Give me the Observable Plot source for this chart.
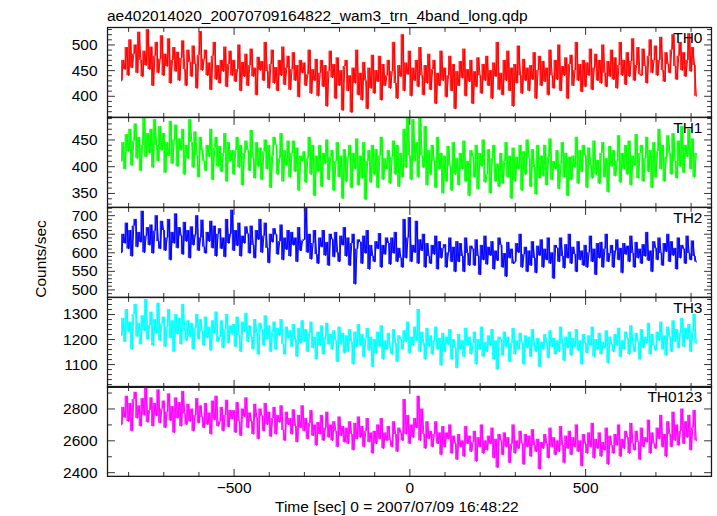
<!DOCTYPE html>
<html><head><meta charset="utf-8">
<script src="https://cdn.jsdelivr.net/npm/d3@7"></script>
<script src="https://cdn.jsdelivr.net/npm/@observablehq/plot@0.6"></script>
<style>
body{margin:0;background:#fff;}
#chart{position:relative;width:717px;height:516px;font-family:"Liberation Sans",Arial,Helvetica,sans-serif;color:#000;overflow:hidden;}
.abs{position:absolute;white-space:nowrap;line-height:1;font-size:15.5px;}
</style></head><body><div id="chart"></div>
<script>
const title = "ae402014020_20070709164822_wam3_trn_4band_long.qdp";
const yLabel = "Counts/sec";
const xLabel = "Time [sec] 0 = 2007/07/09 16:48:22";
const panelNames = ["TH0", "TH1", "TH2", "TH3", "TH0123"];
const panelColors = ["#ff0000", "#00ff00", "#0000ff", "#00ffff", "#ff00ff"];

// sampling of the light curves (seconds)
const tStart = -820, tStep = 5;

const th0 = [
430,470,452,495,440,510,455,482, 500,445,525,470,438,488,460,530,
452,496,420,478,505,445,472,518, 440,482,458,512,425,470,495,448,
486,430,474,508,452,420,490,466, 438,498,462,415,480,526,450,472,
490,440,465,412,478,505,432,460, 425,470,448,496,418,462,488,440,
470,428,452,500,410,466,438,482, 420,460,492,438,455,402,476,450,
468,430,505,448,415,462,490,425, 456,410,470,440,496,422,455,478,
412,452,485,430,460,398,470,445, 465,420,442,490,405,452,430,472,
400,445,470,418,460,380,448,488, 436,462,395,475,420,450,372,458,
470,410,440,368,455,425,490,402, 445,392,466,430,375,455,415,480,
405,450,428,478,392,462,420,440, 470,415,448,505,425,395,460,438,
520,410,465,442,488,400,455,430, 470,418,495,440,402,460,425,482,
412,452,470,385,445,420,488,430, 455,398,440,478,410,462,375,448,
420,468,435,492,400,452,428,470, 385,448,418,475,440,405,462,430,
478,420,450,395,465,438,505,412, 445,402,470,430,488,410,455,380,
462,425,498,440,405,472,430,455, 410,460,432,485,395,450,478,420,
468,428,455,402,490,440,415,470, 432,500,410,458,440,475,395,462,
480,420,450,505,430,462,408,470, 418,465,440,492,412,455,482,430,
470,425,500,445,418,468,438,490, 432,475,415,460,505,440,470,422,
485,438,468,512,430,460,495,442, 440,492,458,425,478,510,445,470,
498,440,470,515,450,428,485,462, 445,490,520,458,432,478,505,450,
485,438,470,522,448,495,460,400];

const th1 = [
410,445,395,460,428,470,402,448, 480,415,455,392,440,490,418,462,
425,470,398,488,440,410,475,430, 462,388,445,420,485,405,450,478,
400,452,430,470,385,440,415,488, 445,398,465,420,380,455,430,410,
392,440,418,470,375,435,455,400, 438,390,425,462,372,445,410,430,
385,430,455,398,440,365,425,448, 430,392,468,415,378,445,400,435,
375,428,450,395,440,360,420,455, 440,385,415,462,372,430,402,448,
380,425,448,390,435,355,420,410, 428,370,415,455,385,440,345,420,
390,440,362,425,405,450,375,418, 430,355,410,445,380,420,340,432,
372,418,440,360,425,395,452,365, 420,378,445,338,410,430,370,440,
385,432,360,420,455,375,415,395, 430,368,418,448,385,440,362,425,
380,470,398,492,420,375,488,410, 445,380,492,420,398,475,365,430,
385,440,410,360,455,395,425,350, 420,372,438,400,355,445,385,415,
365,425,395,448,372,410,345,430, 418,380,440,358,425,400,450,370,
385,432,350,415,440,372,405,362, 425,368,410,445,380,420,340,435,
372,418,395,440,355,428,385,450, 415,362,432,398,348,440,378,420,
382,440,365,418,452,375,410,395, 430,358,405,445,380,425,345,418,
375,420,398,455,368,430,390,440, 420,360,435,402,378,448,385,412,
368,425,445,380,415,352,438,400, 430,382,410,458,370,425,395,440,
385,448,365,420,402,460,378,425, 440,372,415,455,390,430,360,445,
380,428,470,395,440,372,418,458, 425,385,462,410,378,448,400,475,
388,440,418,470,395,452,380,425];

const th2 = [
600,650,625,680,610,660,590,672, 690,615,655,628,712,600,645,668,
620,675,598,658,700,630,610,685, 660,605,640,690,580,655,625,705,
612,668,645,595,682,630,660,585, 670,620,648,700,605,640,688,615,
598,655,630,685,612,672,590,650, 665,610,640,588,690,625,650,715,
605,660,618,680,590,645,625,670, 650,598,672,620,585,660,635,690,
600,645,680,612,572,650,628,665, 648,595,630,675,580,640,608,660,
590,655,620,640,575,668,605,632, 635,720,600,650,582,625,660,595,
570,640,615,660,592,628,565,650, 635,588,655,600,575,645,620,668,
590,640,565,625,650,515,610,635, 628,570,645,598,660,555,620,590,
575,630,610,652,560,620,595,640, 625,568,640,598,655,575,612,585,
560,690,585,640,695,575,620,600, 685,570,635,605,650,560,625,590,
570,620,595,645,555,630,585,612, 622,560,600,640,575,615,548,630,
575,625,590,548,640,598,565,618, 610,565,635,590,540,620,580,645,
568,615,592,630,555,605,578,640, 620,560,598,535,628,585,610,570,
575,625,600,650,560,595,615,548, 605,565,630,585,545,618,592,635,
560,610,580,640,570,600,530,620, 612,575,640,590,558,622,585,650,
570,615,595,548,630,580,605,565, 620,560,600,645,575,610,540,625,
585,628,560,610,650,575,598,620, 560,605,635,580,612,545,625,595,
618,575,645,598,560,628,585,610, 570,622,590,655,578,605,548,630,
612,580,640,598,565,625,602,650, 575,630,592,612,555,640,585,620,
610,570,645,598,580,632,590,575];

const th3 = [
1215,1285,1190,1320,1230,1270,1160,1300, 1340,1210,1265,1180,1295,1235,1360,1200,
1255,1310,1175,1280,1225,1345,1195,1262, 1290,1170,1250,1320,1205,1275,1150,1300,
1220,1285,1180,1340,1240,1195,1275,1210, 1265,1160,1245,1300,1200,1280,1230,1175,
1290,1205,1250,1155,1275,1225,1310,1190, 1210,1275,1165,1240,1300,1185,1255,1220,
1260,1170,1290,1215,1150,1270,1230,1305, 1190,1255,1210,1160,1280,1225,1140,1265,
1240,1175,1295,1200,1255,1150,1230,1270, 1160,1245,1215,1280,1180,1140,1250,1205,
1235,1170,1260,1200,1130,1245,1185,1275, 1190,1240,1150,1225,1270,1165,1210,1120,
1230,1175,1255,1140,1210,1265,1180,1220, 1160,1235,1195,1110,1250,1180,1225,1145,
1215,1150,1240,1190,1100,1230,1170,1260, 1175,1220,1130,1205,1245,1155,1210,1090,
1200,1145,1230,1170,1255,1120,1195,1160, 1225,1165,1140,1240,1185,1110,1215,1200,
1160,1235,1190,1270,1145,1210,1175,1250, 1195,1320,1150,1230,1185,1120,1245,1170,
1215,1140,1195,1250,1160,1205,1095,1225, 1150,1210,1180,1240,1120,1200,1165,1085,
1220,1160,1195,1130,1245,1175,1210,1140, 1185,1230,1100,1200,1160,1250,1130,1190,
1150,1215,1175,1240,1120,1195,1080,1210, 1200,1135,1230,1170,1210,1110,1185,1245,
1140,1195,1160,1225,1185,1100,1215,1165, 1210,1130,1240,1175,1150,1205,1090,1190,
1160,1220,1185,1125,1235,1170,1205,1140, 1195,1150,1250,1180,1115,1210,1165,1230,
1135,1205,1170,1240,1155,1195,1100,1220, 1185,1145,1215,1175,1250,1130,1200,1160,
1225,1140,1190,1165,1235,1105,1210,1180, 1150,1220,1175,1245,1130,1195,1160,1230,
1205,1140,1255,1180,1150,1225,1190,1120, 1240,1165,1210,1185,1265,1140,1220,1175,
1155,1230,1195,1270,1160,1215,1135,1250, 1210,1150,1275,1190,1240,1165,1225,1285,
1170,1245,1200,1260,1150,1230,1300,1185];

const th0123 = [
2700,2810,2745,2880,2720,2835,2660,2860, 2905,2740,2820,2690,2865,2760,2930,2715,
2790,2870,2690,2835,2755,2920,2710,2800, 2850,2680,2780,2895,2725,2815,2650,2870,
2740,2840,2690,2910,2770,2700,2830,2720, 2800,2660,2760,2865,2710,2820,2745,2680,
2835,2700,2775,2640,2850,2730,2880,2690, 2720,2810,2660,2760,2855,2685,2790,2735,
2790,2650,2840,2720,2630,2800,2750,2870, 2680,2775,2720,2640,2830,2745,2610,2800,
2755,2660,2835,2700,2780,2625,2740,2810, 2640,2760,2715,2820,2665,2600,2780,2700,
2740,2640,2795,2690,2590,2760,2680,2820, 2660,2740,2610,2710,2790,2630,2700,2570,
2715,2640,2760,2600,2680,2780,2620,2700, 2600,2720,2660,2560,2750,2630,2690,2590,
2680,2580,2720,2640,2540,2710,2610,2750, 2620,2690,2560,2660,2740,2590,2650,2520,
2660,2580,2700,2610,2740,2550,2650,2600, 2690,2600,2560,2720,2640,2530,2680,2650,
2600,2860,2640,2760,2580,2700,2620,2740, 2680,2880,2600,2800,2640,2550,2720,2610,
2660,2560,2640,2720,2580,2650,2510,2690, 2560,2650,2610,2700,2520,2630,2580,2480,
2640,2560,2600,2500,2690,2580,2630,2530, 2590,2660,2470,2620,2560,2700,2520,2600,
2540,2630,2580,2680,2490,2610,2430,2640, 2600,2510,2650,2560,2620,2460,2580,2700,
2520,2600,2550,2660,2580,2450,2640,2560, 2630,2500,2670,2570,2530,2610,2420,2590,
2550,2640,2580,2490,2680,2560,2620,2510, 2600,2530,2690,2570,2460,2630,2550,2660,
2510,2620,2560,2700,2530,2600,2440,2640, 2580,2520,2650,2560,2710,2490,2610,2550,
2650,2500,2590,2540,2680,2450,2630,2570, 2520,2640,2570,2700,2500,2610,2550,2660,
2620,2520,2710,2580,2540,2660,2590,2480, 2680,2560,2620,2590,2730,2520,2650,2580,
2550,2680,2610,2760,2560,2640,2500,2720, 2640,2560,2780,2600,2700,2570,2660,2800,
2580,2720,2620,2760,2540,2680,2790,2600];

// axis ticks and ranges
const xTicks = [-500, 0, 500];
const xMinorStep = 100;
const xDomain = [-860, 858];
const yTicks = [[400, 450, 500], [350, 400, 450], [500, 550, 600, 650, 700], [1100, 1200, 1300], [2400, 2600, 2800]];
const yMinorSteps = [10, 10, 10, 20, 100];
const yDomains = [[359, 534], [324, 492], [480, 722], [1009, 1368], [2377, 2941]];
const seriesValues = [th0, th1, th2, th3, th0123];

const W = 717, panelTop = 27, panelH = 89.85, mLeft = 107, mRight = 6;
const frameColor = "#1a1a1a", tickColor = "#333";
const font = '"Liberation Sans", Arial, Helvetica, sans-serif';
const chart = document.getElementById("chart");

const tickShape = {draw(ctx, l) { ctx.moveTo(0, 0); ctx.lineTo(0, -l); }};
const vec = (data, opts) => Plot.vector(data, {anchor: "start", shape: tickShape, stroke: tickColor, strokeWidth: 1, ...opts});

const xMinor = d3.range(-800, 801, xMinorStep).filter(d => !xTicks.includes(d));

seriesValues.forEach((vals, i) => {
  const last = i === seriesValues.length - 1;
  const data = vals.map((v, k) => ({t: tStart + k * tStep, v}));
  // vertical extent swept by the curve between neighbouring samples
  const sweep = data.slice(1).map((d, k) => ({
    t1: data[k].t, t2: d.t,
    lo: Math.min(data[k].v, d.v), hi: Math.max(data[k].v, d.v)
  }));
  const dom = yDomains[i];
  const step = yMinorSteps[i];
  const yMinor = d3.range(Math.ceil(dom[0] / step) * step, dom[1], step).filter(d => !yTicks[i].includes(d));
  const marks = [
    Plot.rect(sweep, {x1: "t1", x2: "t2", y1: "lo", y2: "hi", fill: panelColors[i], fillOpacity: 0.85, clip: true}),
    Plot.line(data, {x: "t", y: "v", stroke: panelColors[i], strokeWidth: 1, clip: true}),
    vec(yTicks[i], {y: d => d, frameAnchor: "left", rotate: 90, length: 7}),
    vec(yMinor, {y: d => d, frameAnchor: "left", rotate: 90, length: 4}),
    vec(yTicks[i], {y: d => d, frameAnchor: "right", rotate: -90, length: 7}),
    vec(yMinor, {y: d => d, frameAnchor: "right", rotate: -90, length: 4}),
    vec(xTicks, {x: d => d, frameAnchor: "bottom", rotate: 0, length: 7}),
    vec(xMinor, {x: d => d, frameAnchor: "bottom", rotate: 0, length: 4}),
    vec(xTicks, {x: d => d, frameAnchor: "top", rotate: 180, length: 7}),
    vec(xMinor, {x: d => d, frameAnchor: "top", rotate: 180, length: 4}),
    Plot.frame({stroke: frameColor, strokeWidth: 1.3}),
    Plot.axisY({ticks: yTicks[i], tickSize: 0, tickPadding: 10, tickFormat: "d", label: null}),
    Plot.text([panelNames[i]], {frameAnchor: "top-right", text: d => d, dx: -9, dy: 4, lineAnchor: "top", textAnchor: "end", fill: "#000"})
  ];
  if (last) marks.push(Plot.axisX({ticks: xTicks, tickSize: 0, tickPadding: 6, tickFormat: "d", label: null}));
  const svg = Plot.plot({
    width: W,
    height: panelH + (last ? 40 : 0),
    marginLeft: mLeft, marginRight: mRight, marginTop: 0, marginBottom: last ? 40 : 0,
    x: {domain: xDomain, axis: last ? undefined : null},
    y: {domain: dom},
    style: {fontFamily: font, fontSize: "15.5px", overflow: "visible", background: "transparent", color: "#000"},
    marks
  });
  svg.style.position = "absolute";
  svg.style.left = "0px";
  svg.style.top = (panelTop + i * panelH) + "px";
  chart.appendChild(svg);
});

function addText(txt, css) {
  const d = document.createElement("div");
  d.className = "abs";
  d.textContent = txt;
  Object.assign(d.style, css);
  chart.appendChild(d);
  return d;
}
addText(title, {left: "107px", top: "7.5px"});
addText(xLabel, {left: "275px", top: "499px"});
addText(yLabel, {left: "41px", top: "259px", transform: "translate(-50%,-50%) rotate(-90deg)"});
</script>
</body></html>
